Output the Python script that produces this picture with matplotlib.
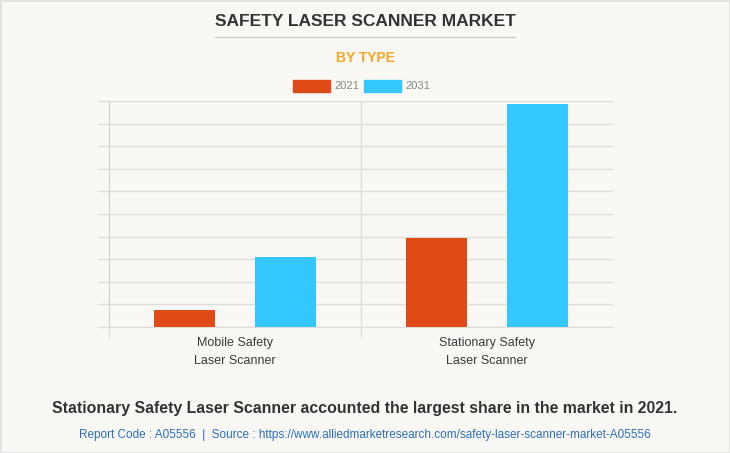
import numpy as np
import matplotlib.pyplot as plt
from matplotlib.lines import Line2D
from matplotlib.patches import Rectangle

# donnees
categories = ["Mobile Safety\nLaser Scanner", "Stationary Safety\nLaser Scanner"]
series = ["2021", "2031"]
val_2021 = [0.75, 3.95]
val_2031 = [3.1, 9.85]

couleurs = ["#E04A17", "#33C7FE"]
fond = "#F9F8F4"
grille = "#DEDDD8"

plt.rcParams['font.family'] = ['Liberation Sans', 'DejaVu Sans']

fig = plt.figure(figsize=(7.3, 4.53), dpi=100, facecolor=fond)
W, H = 730, 453

# axe principal (pixels -> fractions)
x0, x1, y0, y1 = 109, 613, 101, 327
ax = fig.add_axes([x0 / W, 1 - y1 / H, (x1 - x0) / W, (y1 - y0) / H])
ax.set_facecolor(fond)

x = np.arange(len(categories))
largeur = 0.242
ax.bar(x - 0.2, val_2021, largeur, color=couleurs[0], zorder=3)
ax.bar(x + 0.2, val_2031, largeur, color=couleurs[1], zorder=3)

ax.set_xlim(-0.5, 1.5)
ax.set_ylim(0, 10)
ax.set_yticks(np.arange(0, 11, 1))
ax.set_yticklabels([])
ax.yaxis.grid(True, color=grille, linewidth=1, zorder=0)
ax.tick_params(axis='y', length=8, color=grille, width=1)

ax.set_xticks(x)
ax.set_xticklabels(categories, fontsize=9, color="#3A3A3A", linespacing=1.75)
ax.tick_params(axis='x', length=0, pad=7)
ax.set_xticks([-0.5, 0.5], minor=True)
ax.tick_params(axis='x', which='minor', length=8, color=grille, width=1)
ax.axvline(0.5, color=grille, linewidth=1, zorder=0)

for s in ["top", "right"]:
    ax.spines[s].set_visible(False)
ax.spines["left"].set_color("#CFCECA")
ax.spines["bottom"].set_color(grille)

# titres
fig.text(365 / W, 1 - 21 / H, "SAFETY LASER SCANNER MARKET", ha='center', va='center',
         fontsize=12.5, fontweight='bold', color="#333333")
fig.add_artist(Line2D([215 / W, 515 / W], [1 - 37 / H, 1 - 37 / H], color="#C8C8C8", linewidth=1))
fig.text(365 / W, 1 - 58 / H, "BY TYPE", ha='center', va='center',
         fontsize=10, fontweight='bold', color="#F5A623")

# legende
for i, (nom, c) in enumerate(zip(series, couleurs)):
    px = 293 + i * 71
    fig.add_artist(Rectangle((px / W, 1 - 92 / H), 37 / W, 12 / H, color=c, transform=fig.transFigure))
    fig.text((px + 41) / W, 1 - 86 / H, nom, ha='left', va='center', fontsize=8,
             color="#888888")

# texte du bas
fig.text(365 / W, 1 - 409 / H, "Stationary Safety Laser Scanner accounted the largest share in the market in 2021.",
         ha='center', va='center', fontsize=11.4, fontweight='bold', color="#333333")
fig.text(365 / W, 1 - 435 / H,
         "Report Code : A05556  |  Source : https://www.alliedmarketresearch.com/safety-laser-scanner-market-A05556",
         ha='center', va='center', fontsize=8.45, color="#2A6EBB")

# cadre
fig.add_artist(Rectangle((0, 0), 1, 1, fill=False, edgecolor="#E2E2E2", linewidth=2, transform=fig.transFigure))

plt.savefig("out.png", dpi=100, facecolor=fond)
